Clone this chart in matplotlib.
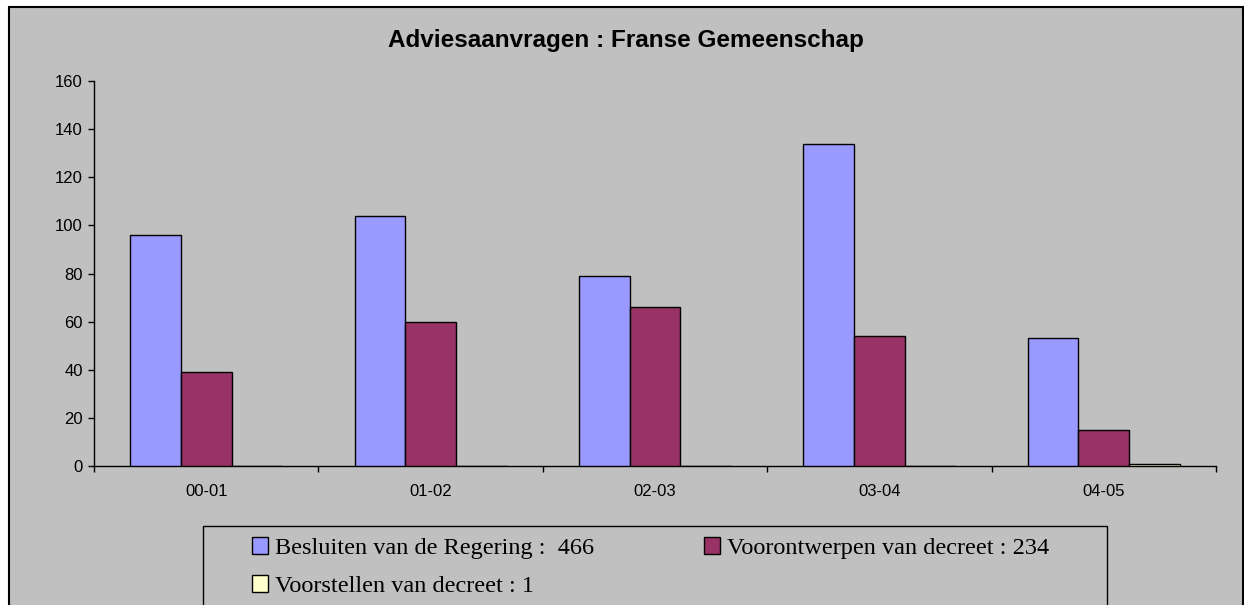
import numpy as np
import matplotlib.pyplot as plt
from matplotlib.patches import Rectangle

# ---- data ----
seasons = ['00-01', '01-02', '02-03', '03-04', '04-05']
besluiten = [96, 104, 79, 134, 53]
voorontwerpen = [39, 60, 66, 54, 15]
voorstellen = [0, 0, 0, 0, 1]
labels = ['Besluiten van de Regering :  466',
          'Voorontwerpen van decreet : 234',
          'Voorstellen van decreet : 1']
colors = ['#9999FF', '#993366', '#FFFFCC']
yticks = [0, 20, 40, 60, 80, 100, 120, 140, 160]

W, H = 1244, 605
fig = plt.figure(figsize=(W / 100, H / 100), dpi=100, facecolor='white')

# grey chart area with black border (runs off the bottom edge)
fig.patches.append(Rectangle((9 / W, -0.1), (1243 - 9) / W, (H - 7) / H + 0.1,
                             transform=fig.transFigure, facecolor='#C0C0C0',
                             edgecolor='black', linewidth=1.5, zorder=-5))

ax = fig.add_axes([94 / W, (H - 466) / H, (1216 - 94) / W, (466 - 81) / H])
ax.set_facecolor('none')

x = np.arange(len(seasons))
bw = 0.226
series = [besluiten, voorontwerpen, voorstellen]
handles = []
for i, (vals, c) in enumerate(zip(series, colors)):
    b = ax.bar(x + (i - 1) * bw, vals, width=bw, color=c, edgecolor='black',
               linewidth=1.0, zorder=3)
    handles.append(b)

ax.set_xlim(-0.5, len(seasons) - 0.5)
ax.set_ylim(0, 160)
ax.set_yticks(yticks)
ax.set_xticks(x)
ax.set_xticklabels(seasons)
ax.set_xticks(np.arange(-0.5, len(seasons)), minor=True)
ax.tick_params(axis='x', which='major', length=0, pad=13, labelsize=12)
ax.tick_params(axis='x', which='minor', length=4, width=1, direction='out')
ax.tick_params(axis='y', length=4, width=1, labelsize=12, pad=4)
for s in ['top', 'right']:
    ax.spines[s].set_visible(False)
for s in ['left', 'bottom']:
    ax.spines[s].set_linewidth(1.0)

fig.text(626 / W, (H - 40) / H, 'Adviesaanvragen : Franse Gemeenschap',
         ha='center', va='center', fontsize=17.5, fontweight='bold',
         family='Liberation Sans')
for t in ax.get_xticklabels() + ax.get_yticklabels():
    t.set_family('Liberation Sans')

# legend box
fig.patches.append(Rectangle((203 / W, -0.1), (1107 - 203) / W, (H - 526) / H + 0.1,
                             transform=fig.transFigure, facecolor='none',
                             edgecolor='black', linewidth=1.0, zorder=1))
order = [0, 2, 1]
fig.legend([handles[i] for i in order], [labels[i] for i in order],
           ncol=2, loc='upper left', bbox_to_anchor=(252 / W, (H - 537) / H),
           frameon=False, prop={'family': 'Liberation Serif', 'size': 17.5},
           handlelength=0.66, handleheight=0.7, handletextpad=0.29,
           columnspacing=4.5, labelspacing=0.64, borderpad=0, borderaxespad=0)

fig.savefig('out.png', dpi=100, facecolor='white')
